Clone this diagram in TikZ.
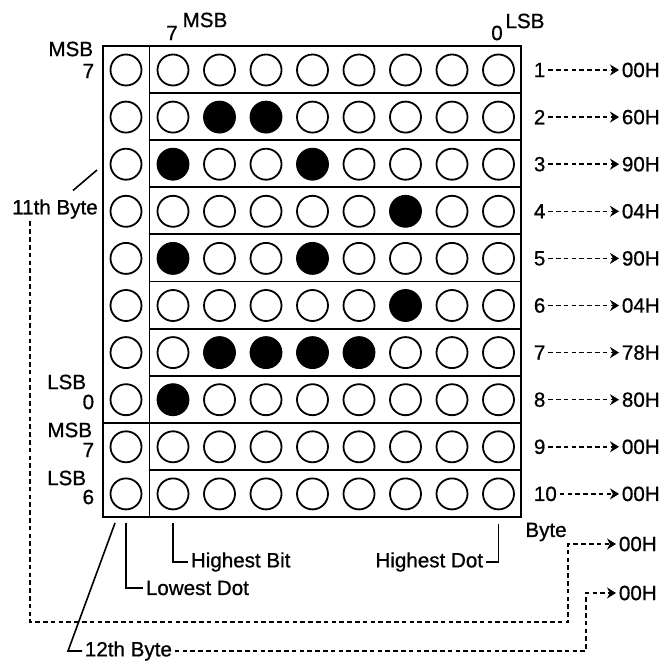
\documentclass[tikz,border=0pt]{standalone}
\usepackage{fontspec}
\setmainfont{Liberation Sans}[FakeBold=0.8]
\usetikzlibrary{arrows.meta}

\begin{document}
\begin{tikzpicture}[x=0.5pt,y=-0.5pt,line width=0.9pt,
	dot_node/.style={circle,draw,minimum size=15.5pt,inner sep=0pt},
	txt_node/.style={inner sep=1pt,font=\fontsize{10.3}{12}\selectfont},
	dash_arrow/.style={line width=0.7pt,dash pattern=on 2.3pt off 1.6pt,-{Stealth[length=4.5pt,width=5.5pt]}},
	pointer/.style={line width=0.8pt}]

		\useasboundingbox (0,0) rectangle (661,662);

		% frame: column 0 holds the 11th and 12th byte, columns 1..8 the bits 7..0
		\draw (103,46) rectangle (521,517);
		\draw (149.5,46) -- (149.5,517);
		\foreach \k in {1,...,9}
			\draw (149.5,{46+\k*47.1}) -- (521,{46+\k*47.1});
		\draw (103,423) -- (149.5,423);

		% (d<row>-<col>) is the dot in that row and column
		\foreach \r in {1,...,10}{
			\node[dot_node] (d\r-0) at (126,{70+(\r-1)*47.1}){};
			\foreach \c in {1,...,8}
				\node[dot_node] (d\r-\c) at ({173+(\c-1)*46.5},{70+(\r-1)*47.1}){};
		}
		\foreach \r/\c in {2/2,2/3,3/1,3/4,4/6,5/1,5/4,6/6,7/2,7/3,7/4,7/5,8/1}
			\fill (d\r-\c.center) circle (8pt);

		% bit numbers on top
		\node[txt_node] (top7) at (172,33){7};
		\node[txt_node] (topmsb) at (205,20){MSB};
		\node[txt_node] (top0) at (497,33){0};
		\node[txt_node] (toplsb) at (525,21){LSB};

		% bit numbers on the left
		\node[txt_node,anchor=east] (lmsb1) at (96,49){MSB};
		\node[txt_node,anchor=east] (l7a) at (97,71){7};
		\node[txt_node,anchor=east] (llsb1) at (89,382){LSB};
		\node[txt_node,anchor=east] (l0) at (97,402){0};
		\node[txt_node,anchor=east] (lmsb2) at (95,430){MSB};
		\node[txt_node,anchor=east] (l7b) at (97,450){7};
		\node[txt_node,anchor=east] (llsb2) at (89,478){LSB};
		\node[txt_node,anchor=east] (l6) at (97,497){6};

		% bytes 1..10 and their values
		\foreach \r/\h in {1/00H,2/60H,3/90H,4/04H,5/90H,6/04H,7/78H,8/80H,9/00H,10/00H}{
			\node[txt_node,anchor=west] (n\r) at (531,{70+(\r-1)*47.1}){\r};
			\node[txt_node,anchor=west] (h\r) at (619,{70+(\r-1)*47.1}){\h};
			\draw[dash_arrow] (n\r) -- (h\r);
		}
		\node[txt_node] (byte) at (546,532){Byte};

		% 11th byte
		\node[txt_node] (b11) at (55,209){11th Byte};
		\node[txt_node,anchor=west] (h11) at (616,544){00H};
		\coordinate (c11) at (568,622);
		\draw[pointer] ([xshift=9pt,yshift=3pt]b11.north) -- (97,170);
		\draw[dash_arrow] ([xshift=-12.5pt]b11.south) |- (c11) |- (h11.west);

		% 12th byte
		\node[txt_node,anchor=west] (b12) at (82,651){12th Byte};
		\node[txt_node,anchor=west] (h12) at (616,593){00H};
		\coordinate (c12) at (586,593);
		\coordinate (k12) at (115,523);
		\coordinate (e12) at (68,651);
		\draw[pointer] (k12) -- (e12) -- (b12.west);
		\draw[dash_arrow] (b12.east) -| (c12) -- (h12.west);

		% dot and bit pointers
		\node[txt_node,anchor=west] (ldot) at (143,588){Lowest Dot};
		\node[txt_node,anchor=west] (hbit) at (188,562){Highest Bit};
		\node[txt_node,anchor=east] (hdot) at (486,562){Highest Dot};
		\draw[pointer] ([yshift=-6.5pt]d10-0.south) |- (ldot.west);
		\draw[pointer] ([yshift=-6.5pt]d10-1.south) |- (hbit.west);
		\draw[pointer] ([yshift=-7pt]d10-8.south) |- (hdot.east);

	\end{tikzpicture}
\end{document}
